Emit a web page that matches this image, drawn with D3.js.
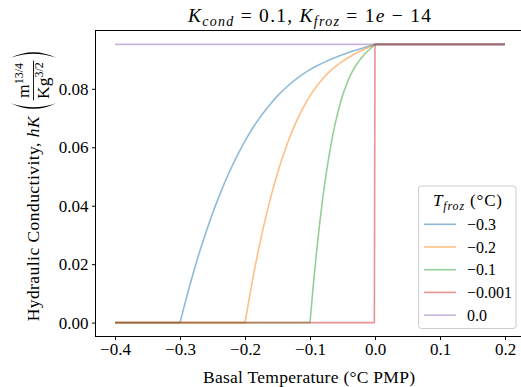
<!DOCTYPE html>
<html><head><meta charset="utf-8">
<script src="https://cdn.jsdelivr.net/npm/d3@7"></script>
<style>body{margin:0;background:#fff} text{font-family:"Liberation Serif","Times New Roman",serif;fill:#000}</style>
</head><body><svg id="c" width="521" height="387" xmlns="http://www.w3.org/2000/svg"></svg>
<script>
// ---- data ----
const xTicks = [-0.4, -0.3, -0.2, -0.1, 0.0, 0.1, 0.2];
const yTicks = [0.00, 0.02, 0.04, 0.06, 0.08];
const seriesLabels = ["\u22120.3", "\u22120.2", "\u22120.1", "\u22120.001", "0.0"];

const tempA = [-0.4, -0.3, -0.285, -0.27, -0.255, -0.24, -0.225, -0.21, -0.195, -0.18, -0.165, -0.15, -0.135, -0.12, -0.105, -0.09, -0.075, -0.06, -0.045, -0.03, -0.015, 0.0, 0.2];
const hkA   = [0, 0, 0.0127, 0.0241, 0.0342, 0.0432, 0.0511, 0.0580, 0.0641, 0.0693, 0.0737, 0.0776, 0.0808, 0.0836, 0.0859, 0.0878, 0.0894, 0.0908, 0.0921, 0.0932, 0.0942, 0.0952, 0.0952];

const tempB = [-0.4, -0.2, -0.19, -0.18, -0.17, -0.16, -0.15, -0.14, -0.13, -0.12, -0.11, -0.10, -0.09, -0.08, -0.07, -0.06, -0.05, -0.04, -0.03, -0.02, -0.01, 0.0, 0.2];
const hkB   = [0, 0, 0.0127, 0.0241, 0.0342, 0.0432, 0.0511, 0.0580, 0.0641, 0.0693, 0.0737, 0.0776, 0.0808, 0.0836, 0.0859, 0.0878, 0.0894, 0.0908, 0.0921, 0.0932, 0.0942, 0.0952, 0.0952];

const tempC = [-0.4, -0.1, -0.095, -0.09, -0.085, -0.08, -0.075, -0.07, -0.065, -0.06, -0.055, -0.05, -0.045, -0.04, -0.035, -0.03, -0.025, -0.02, -0.015, -0.01, -0.005, 0.0, 0.2];
const hkC   = [0, 0, 0.0127, 0.0241, 0.0342, 0.0432, 0.0511, 0.0580, 0.0641, 0.0693, 0.0737, 0.0776, 0.0808, 0.0836, 0.0859, 0.0878, 0.0894, 0.0908, 0.0921, 0.0932, 0.0942, 0.0952, 0.0952];

const tempD = [-0.4, -0.001, 0.0, 0.2];
const hkD   = [0, 0, 0.0952, 0.0952];

const tempE = [-0.4, 0.2];
const hkE   = [0.0952, 0.0952];

const seriesT = [tempA, tempB, tempC, tempD, tempE];
const seriesK = [hkA, hkB, hkC, hkD, hkE];
const colors = ["#1f77b4", "#ff7f0e", "#2ca02c", "#d62728", "#9467bd"];

// ---- layout ----
const svg = d3.select("#c");
const L = 95.5, R = 524.5, T = 30.5, B = 336.5;
const x = d3.scaleLinear().domain([-0.43, 0.23]).range([L, R]);
const y = d3.scaleLinear().domain([-0.00476, 0.09996]).range([B, T]);

svg.append("clipPath").attr("id", "clp").append("rect")
  .attr("x", L).attr("y", T).attr("width", R - L).attr("height", B - T);
const plot = svg.append("g").attr("clip-path", "url(#clp)");

function pathFor(TT, KK) {
  const pts = TT.map((t, i) => [x(t), y(KK[i])]);
  if (pts.length < 6) return d3.line()(pts);
  const mid = d3.line().curve(d3.curveMonotoneX)(pts.slice(1, pts.length - 1));
  return "M" + pts[0].join(",") + mid.replace(/^M/, "L") + "L" + pts[pts.length - 1].join(",");
}
seriesT.forEach((TT, i) => {
  plot.append("path").attr("d", pathFor(TT, seriesK[i]))
    .attr("fill", "none").attr("stroke", colors[i]).attr("stroke-opacity", 0.5)
    .attr("stroke-width", 1.6).attr("stroke-linejoin", "round");
});

// frame
svg.append("rect").attr("x", L).attr("y", T).attr("width", R - L).attr("height", B - T)
  .attr("fill", "none").attr("stroke", "#000").attr("stroke-width", 1);

// axes
const fmtX = d3.format(".1f"), fmtY = d3.format(".2f");
const gx = svg.append("g").attr("transform", `translate(0,${B})`)
  .call(d3.axisBottom(x).tickValues(xTicks).tickSize(3.5).tickPadding(3).tickFormat(fmtX));
const gy = svg.append("g").attr("transform", `translate(${L},0)`)
  .call(d3.axisLeft(y).tickValues(yTicks).tickSize(3.5).tickPadding(3.5).tickFormat(fmtY));
[gx, gy].forEach(g => {
  g.select(".domain").remove();
  g.selectAll("line").attr("stroke", "#000").attr("stroke-width", 1);
  g.selectAll("text").attr("font-size", 17).attr("fill", "#000");
});

// x label
svg.append("text").attr("x", (L + R) / 2 - 1).attr("y", 383).attr("text-anchor", "middle")
  .attr("font-size", 17.5).attr("textLength", 212).attr("lengthAdjust", "spacing")
  .text("Basal Temperature (\u00B0C PMP)");

// title
const tt = svg.append("text").attr("x", 309.5).attr("y", 22).attr("text-anchor", "middle")
  .attr("font-size", 19.5).attr("textLength", 243).attr("lengthAdjust", "spacing");
function sub(t, s) { t.append("tspan").attr("font-size", 14).attr("font-style", "italic").attr("dy", 4).text(s); }
tt.append("tspan").attr("font-style", "italic").text("K");
sub(tt, "cond");
tt.append("tspan").attr("dy", -4).text(" = ");
tt.append("tspan").text("0.1, ");
tt.append("tspan").attr("font-style", "italic").text("K");
sub(tt, "froz");
tt.append("tspan").attr("dy", -4).text(" = ");
tt.append("tspan").text("1");
tt.append("tspan").attr("font-style", "italic").text("e");
tt.append("tspan").text(" \u2212 14");

// y label
const LX = 39, LY = 185.5;
const gl = svg.append("g").attr("transform", `translate(${LX},${LY}) rotate(-90)`);
const mainT = gl.append("text").attr("y", 0).attr("font-size", 17.5)
  .attr("textLength", 205).attr("lengthAdjust", "spacing");
mainT.append("tspan").text("Hydraulic Conductivity, ");
mainT.append("tspan").attr("font-style", "italic").text("hK");
const mw = 205;
const num = gl.append("text").attr("font-size", 17.5).attr("y", -10);
num.append("tspan").text("m");
num.append("tspan").attr("font-size", 12).attr("dy", -6).text("13/4");
const den = gl.append("text").attr("font-size", 17.5).attr("y", 9.5);
den.append("tspan").text("Kg");
den.append("tspan").attr("font-size", 12).attr("dy", -6).text("3/2");
const nw = num.node().getComputedTextLength(), dw = den.node().getComputedTextLength();
const fw = Math.max(nw, dw) + 3;
const gap = 5, pw = 11;
const total = mw + gap + pw + fw + pw;
const u0 = -total / 2;
mainT.attr("x", u0);
const p1 = u0 + mw + gap;
const fx = p1 + pw;
num.attr("x", fx + (fw - nw) / 2);
den.attr("x", fx + (fw - dw) / 2);
gl.append("line").attr("x1", fx).attr("x2", fx + fw).attr("y1", -5.5).attr("y2", -5.5)
  .attr("stroke", "#000").attr("stroke-width", 0.9);
const pTop = -28, pBot = 17, pMid = (pTop + pBot) / 2;
gl.append("path").attr("fill", "#000")
  .attr("d", `M${p1 + 8},${pTop} Q${p1 - 3},${pMid} ${p1 + 8},${pBot} Q${p1 + 0},${pMid} ${p1 + 8},${pTop}Z`);
const p2 = fx + fw + pw;
gl.append("path").attr("fill", "#000")
  .attr("d", `M${p2 - 8},${pTop} Q${p2 + 3},${pMid} ${p2 - 8},${pBot} Q${p2 - 0},${pMid} ${p2 - 8},${pTop}Z`);

// legend
const lg = svg.append("g");
lg.append("rect").attr("x", 418.5).attr("y", 186).attr("width", 97.5).attr("height", 142.5)
  .attr("rx", 3).attr("fill", "#fff").attr("fill-opacity", 0.8).attr("stroke", "#cccccc").attr("stroke-width", 1);
const lt = lg.append("text").attr("x", 467.5).attr("y", 206).attr("text-anchor", "middle")
  .attr("font-size", 17).attr("textLength", 69).attr("lengthAdjust", "spacing");
lt.append("tspan").attr("font-style", "italic").text("T");
lt.append("tspan").attr("font-style", "italic").attr("font-size", 12).attr("dy", 4).text("froz");
lt.append("tspan").attr("dy", -4).text(" (\u00B0C)");
seriesLabels.forEach((lab, i) => {
  const cy = 224.3 + i * 22.7;
  lg.append("line").attr("x1", 424).attr("x2", 456).attr("y1", cy).attr("y2", cy)
    .attr("stroke", colors[i]).attr("stroke-opacity", 0.5).attr("stroke-width", 1.6);
  lg.append("text").attr("x", 467).attr("y", cy + 5.5).attr("font-size", 16).text(lab);
});
</script></body></html>
